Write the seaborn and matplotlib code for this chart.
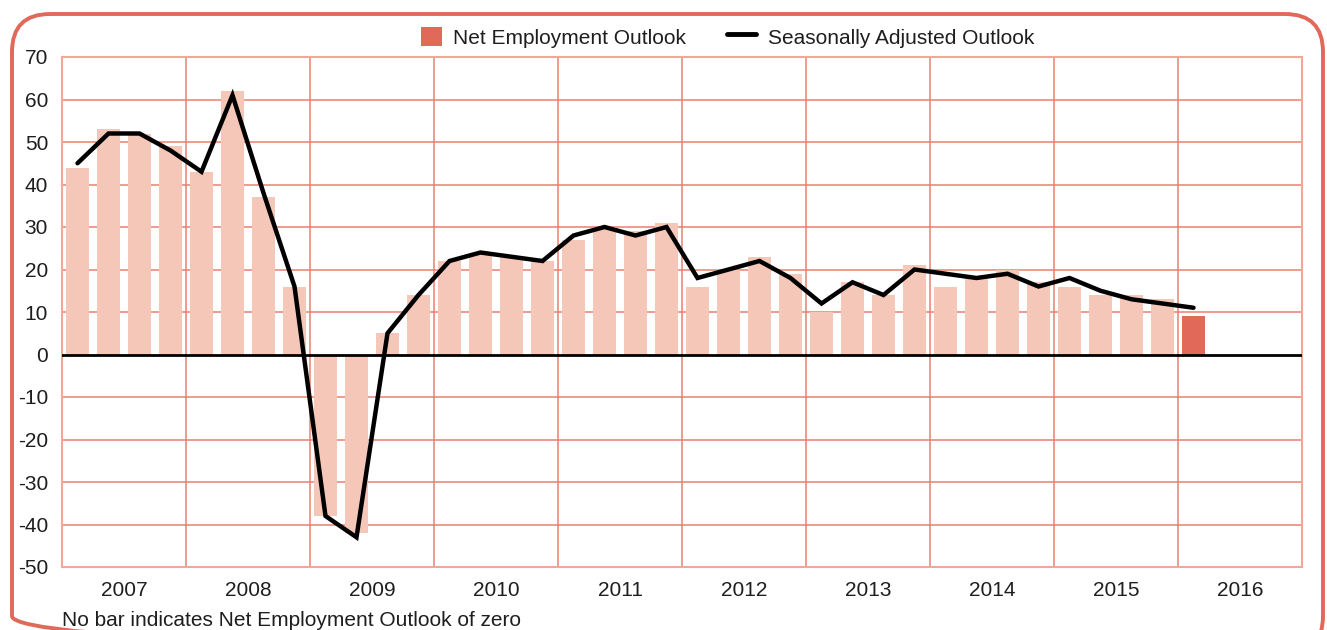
import numpy as np
import pandas as pd
import matplotlib
matplotlib.use("Agg")
import matplotlib.pyplot as plt
import seaborn as sns
from matplotlib.patches import FancyBboxPatch, Patch
from matplotlib.lines import Line2D
from matplotlib.legend_handler import HandlerLine2D

# ---- data ----
years = ["2007", "2008", "2009", "2010", "2011", "2012", "2013", "2014", "2015", "2016"]
net_outlook = [44, 53, 52, 49,
               43, 62, 37, 16,
               -38, -42, 5, 14,
               22, 24, 23, 22,
               27, 30, 29, 31,
               16, 20, 23, 19,
               10, 17, 14, 21,
               16, 18, 20, 17,
               16, 14, 14, 13,
               9]
seasonal = [45, 52, 52, 48,
            43, 61, 38, 16,
            -38, -43, 5, 14,
            22, 24, 23, 22,
            28, 30, 28, 30,
            18, 20, 22, 18,
            12, 17, 14, 20,
            19, 18, 19, 16,
            18, 15, 13, 12,
            11]
y_ticks = [70, 60, 50, 40, 30, 20, 10, 0, -10, -20, -30, -40, -50]
legend_labels = ["Net Employment Outlook", "Seasonally Adjusted Outlook"]
footnote = "No bar indicates Net Employment Outlook of zero"

# ---- style ----
sns.set_theme(style="white")
plt.rcParams["font.family"] = ["Liberation Sans", "DejaVu Sans"]

BAR_LIGHT = "#F4C7B8"
BAR_DARK = "#E0695A"
GRID = "#EA8070"
FRAME = "#F0A899"
BORDER = "#E0695A"
TEXT = "#1E1E1E"
FS = 15

n = len(net_outlook)
df = pd.DataFrame({
    "idx": [str(i) for i in range(n)],
    "pos": np.arange(n),
    "net": net_outlook,
    "sa": seasonal,
})
df["kind"] = ["hist"] * (n - 1) + ["current"]

fig = plt.figure(figsize=(13.27, 6.30), dpi=100)
ax = fig.add_axes([62 / 1327, 1 - 567 / 630, (1302 - 62) / 1327, (567 - 57) / 630])
ax.set_axisbelow(True)

# gridlines (behind bars)
for y in y_ticks:
    if y not in (70, -50, 0):
        ax.axhline(y, color=GRID, lw=1.1, zorder=0.5)
for k in range(1, len(years)):
    ax.axvline(-0.5 + 4 * k, color=GRID, lw=1.1, zorder=0.5)

sns.barplot(data=df, x="idx", y="net", hue="kind",
            palette={"hist": BAR_LIGHT, "current": BAR_DARK},
            width=0.75, dodge=False, legend=False, ax=ax, zorder=2,
            saturation=1, linewidth=0)
sns.lineplot(data=df, x="pos", y="sa", color="black", linewidth=3.2,
             ax=ax, zorder=4, solid_capstyle="round", solid_joinstyle="miter")

ax.set_xlim(-0.5, 4 * len(years) - 0.5)
ax.set_ylim(-50, 70)
ax.axhline(0, color="black", lw=2, zorder=3)

for s in ax.spines.values():
    s.set_color(FRAME)
    s.set_linewidth(1.5)

ax.set_yticks(y_ticks)
ax.set_yticklabels([str(v) for v in y_ticks], fontsize=FS, color=TEXT)
ax.set_xticks([1.5 + 4 * k for k in range(len(years))])
ax.set_xticklabels(years, fontsize=FS, color=TEXT)
ax.tick_params(axis="x", length=0, pad=10)
ax.tick_params(axis="y", length=0, pad=10)
ax.set_xlabel("")
ax.set_ylabel("")


class LongLine(HandlerLine2D):
    def create_artists(self, legend, orig_handle, xdescent, ydescent,
                       width, height, fontsize, trans):
        ln = Line2D([-0.45 * width, 0.95 * width], [height / 2, height / 2],
                    color="black", lw=3.5, solid_capstyle="round",
                    transform=trans)
        return [ln]


handles = [Patch(facecolor=BAR_DARK, edgecolor="none"),
           Line2D([0], [0], color="black", lw=3.5)]
fig.legend(handles, legend_labels, loc="center", bbox_to_anchor=(0.5485, 0.941),
           ncol=2, frameon=False, fontsize=FS, handlelength=1.0, handleheight=1.05,
           columnspacing=2.4, handletextpad=0.55, labelcolor=TEXT,
           handler_map={Line2D: LongLine()})

fig.text(62 / 1327, 1 - 620 / 630, footnote, fontsize=FS, color=TEXT,
         ha="left", va="center")

# rounded border
ov = fig.add_axes([0, 0, 1, 1], zorder=-1)
ov.set_xlim(0, 1327)
ov.set_ylim(630, 0)
ov.axis("off")
ov.add_patch(FancyBboxPatch((12, 14), 1311, 640,
                            boxstyle="round,pad=0,rounding_size=38",
                            fill=False, edgecolor=BORDER, linewidth=2.8))

fig.savefig("out.png", dpi=100)
